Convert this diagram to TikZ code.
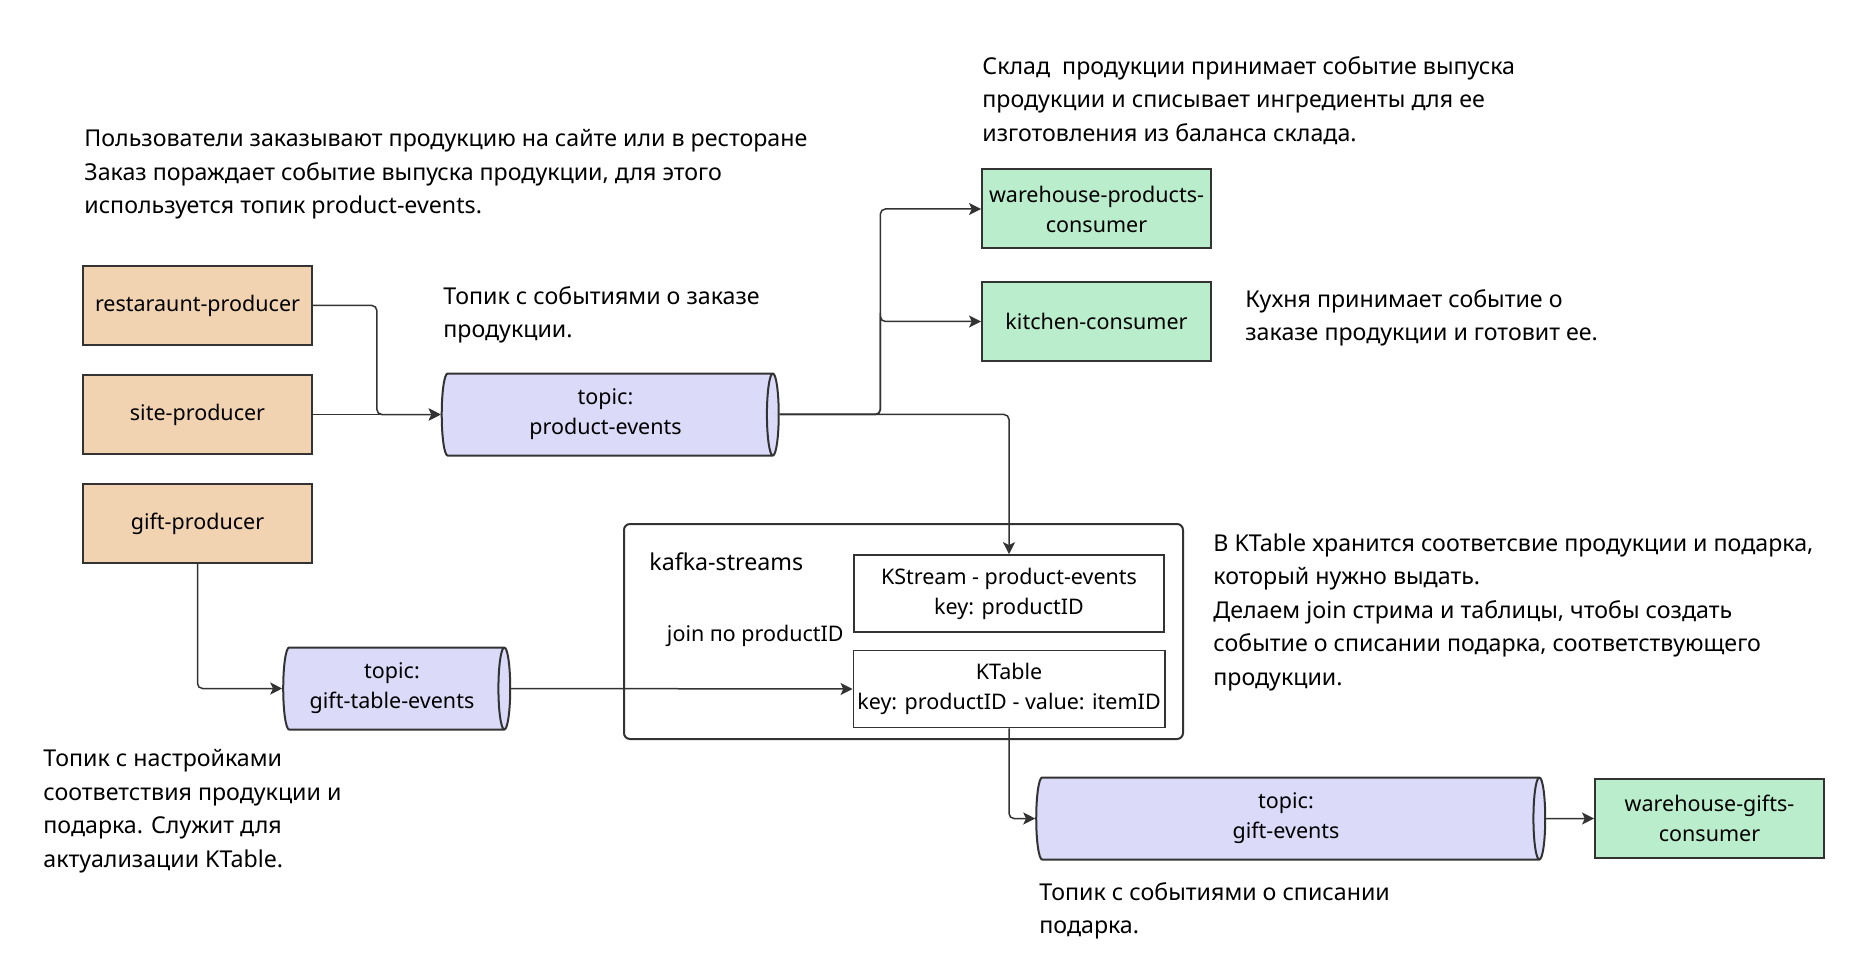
\documentclass[tikz,border=0pt]{standalone}
\usepackage{fontspec}
\setmainfont{Noto Sans}
\usetikzlibrary{calc,arrows.meta,shapes.geometric}
\definecolor{prodfill}{HTML}{F2D3B1}
\definecolor{topicfill}{HTML}{DCDAF9}
\definecolor{consfill}{HTML}{B9EDCB}
\definecolor{edge}{HTML}{333333}

\tikzset{
  box/.style = {draw=edge, line width=1pt, inner sep=2pt, align=center,
                font=\fontsize{10.75}{15}\selectfont,
                execute at begin node={\vspace*{3pt}}},
  producer/.style = {box, fill=prodfill, minimum width=114.5pt, minimum height=39.5pt},
  consumer/.style = {box, fill=consfill, minimum width=114.5pt, minimum height=39.5pt},
  topic/.style = {box, cylinder, shape aspect=0.2, fill=topicfill, minimum width=41pt},
  inner/.style = {box, line width=0.8pt, fill=white, minimum width=155pt, minimum height=38.5pt},
  note/.style = {anchor=north west, inner sep=0pt, align=left,
                 font=\fontsize{11.6}{16.75}\selectfont},
  flow/.style = {draw=edge, line width=0.75pt, rounded corners=2.5pt,
                 -{Stealth[length=6pt,width=6pt,inset=1.4pt]}}
}

\begin{document}
\begin{tikzpicture}[x=0.5pt, y=-0.5pt]
\useasboundingbox (0,0) rectangle (1866,962);

%notes
\node[note] (n1) at (84,129) {Пользователи заказывают продукцию на сайте или в ресторане\\Заказ пораждает событие выпуска продукции, для этого\\используется топик product-events.};
\node[note] (n2) at (982,56) {Склад\ \ продукции принимает событие выпуска\\продукции и списывает ингредиенты для ее\\изготовления из баланса склада.};
\node[note] (n3) at (443,286) {Топик с событиями о заказе\\продукции.};
\node[note] (n4) at (1245,289) {Кухня принимает событие о\\заказе продукции и готовит ее.};
\node[note] (n5) at (1213,533) {В KTable хранится соответсвие продукции и подарка,\\который нужно выдать.\\Делаем join стрима и таблицы, чтобы создать\\событие о списании подарка, соответствующего\\продукции.};
\node[note] (n6) at (43,749) {Топик с настройками\\соответствия продукции и\\подарка. Служит для\\актуализации KTable.};
\node[note] (n7) at (1039,882) {Топик с событиями о списании\\подарка.};

%producers
\node[producer] (rp) at (197.5,305.5) {restaraunt-producer};
\node[producer] (sp) at (197.5,414.5) {site-producer};
\node[producer] (gp) at (197.5,523.5) {gift-producer};

%topics
\node[topic, minimum height=168.5pt] (pe) at (605.5,414.5) {topic:\\product-events};
\node[topic, minimum height=113.5pt] (gt) at (392,688.5) {topic:\\gift-table-events};
\node[topic, minimum height=254.5pt] (ge) at (1286,818.5) {topic:\\gift-events};

%consumers
\node[consumer] (wp) at (1096.5,209) {warehouse-products-\\consumer};
\node[consumer] (kc) at (1096.5,321.5) {kitchen-consumer};
\node[consumer] (wg) at (1709.5,818.5) {warehouse-gifts-\\consumer};

%kafka-streams
\node[draw=edge, line width=1pt, rounded corners=3pt, minimum width=279.5pt,
      minimum height=107.5pt] (kafka) at (903.5,631.5) {};
\node[note] (kname) at (649,552) {kafka-streams};
\node[inner] (ks) at (1009,593.5) {KStream - product-events\\key: productID};
\node[inner] (kt) at (1009,689) {KTable\\key: productID - value: itemID};
\node[note, anchor=north east, font=\fontsize{10.75}{15}\selectfont] (join) at (844,625) {join по productID};

%flows
\coordinate (m1) at ($(rp.east)!0.5!(pe.west)$);
\coordinate (m2) at ($(pe.east)!0.5!(wp.west)$);
\draw[flow] (rp.east) -| (m1) |- (pe.west);
\draw[flow] (sp.east) -- (pe.west);
\draw[flow] (pe.east) -| (m2) |- (wp.west);
\draw[flow] (pe.east) -| (m2) |- (kc.west);
\draw[flow] (pe.east) -| (ks.north);
\draw[flow] (gp.south) |- (gt.west);
\draw[flow] (gt.east) -- (kt.west);
\draw[flow] (kt.south) |- (ge.west);
\draw[flow] (ge.east) -- (wg.west);

\end{tikzpicture}
\end{document}
